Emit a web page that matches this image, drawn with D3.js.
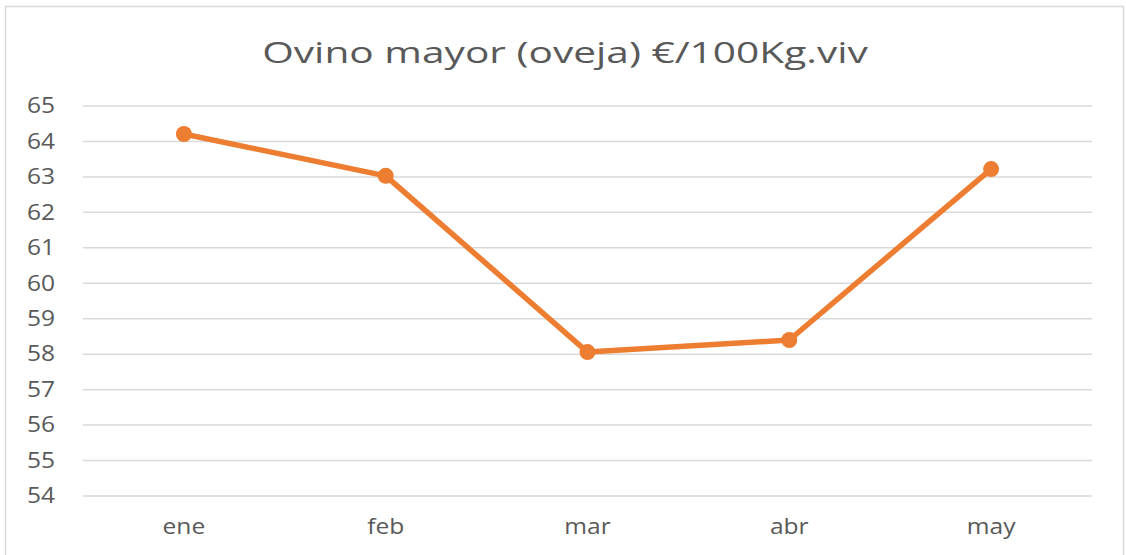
<!DOCTYPE html>
<html>
<head>
<meta charset="utf-8">
<script src="https://cdn.jsdelivr.net/npm/d3@7"></script>
<style>
  html, body { margin: 0; padding: 0; background: #fff; }
  svg { display: block; font-family: "Open Sans", "Noto Sans", sans-serif; }
</style>
</head>
<body>
<svg width="1126" height="555"></svg>
<script>
// chart data
const months = ["ene", "feb", "mar", "abr", "may"];
const prices = [64.21, 63.03, 58.06, 58.4, 63.22];
const yTicks = [54, 55, 56, 57, 58, 59, 60, 61, 62, 63, 64, 65];
const chartTitle = "Ovino mayor (oveja) €/100Kg.viv";

const svg = d3.select("svg");
const width = 1126, height = 555;
const margin = { top: 106, right: 34, bottom: 59, left: 83 };
const labelStretch = 1.17; // the picture's text is a bit wider than Open Sans

// outer frame
svg.append("rect")
  .attr("x", 5.5).attr("y", 6.5)
  .attr("width", 1118).attr("height", 560)
  .attr("fill", "#fff")
  .attr("stroke", "#d9d9d9")
  .attr("stroke-width", 1.5);

const x = d3.scaleBand()
  .domain(months)
  .range([margin.left, width - margin.right])
  .padding(0);

const y = d3.scaleLinear()
  .domain([54, 65])
  .range([height - margin.bottom, margin.top]);

// gridlines
svg.append("g")
  .selectAll("line")
  .data(yTicks)
  .join("line")
  .attr("x1", margin.left)
  .attr("x2", width - margin.right)
  .attr("y1", d => y(d))
  .attr("y2", d => y(d))
  .attr("stroke", "#d9d9d9")
  .attr("stroke-width", 1.5);

// y axis labels
const yAxis = d3.axisLeft(y).tickValues(yTicks).tickSize(0).tickPadding(0);
svg.append("g")
  .attr("transform", `translate(${margin.left - 28},0)`)
  .call(yAxis)
  .call(g => g.select(".domain").remove())
  .selectAll("text")
  .attr("fill", "#595959")
  .attr("transform", `scale(${labelStretch},1)`)
  .style("font-size", "21px")
  .style("font-family", "'Open Sans', sans-serif");

// x axis labels
const xAxis = d3.axisBottom(x).tickSize(0).tickPadding(0);
svg.append("g")
  .attr("transform", `translate(0,${height - margin.bottom + 23})`)
  .call(xAxis)
  .call(g => g.select(".domain").remove())
  .selectAll("text")
  .attr("fill", "#595959")
  .attr("transform", `scale(${labelStretch},1)`)
  .style("font-size", "21px")
  .style("font-family", "'Open Sans', sans-serif");

// line
const line = d3.line()
  .x((d, i) => x(months[i]) + x.bandwidth() / 2)
  .y(d => y(d));

svg.append("path")
  .datum(prices)
  .attr("d", line)
  .attr("fill", "none")
  .attr("stroke", "#ed7d31")
  .attr("stroke-width", 5.5)
  .attr("stroke-linejoin", "round");

svg.append("g")
  .selectAll("circle")
  .data(prices)
  .join("circle")
  .attr("cx", (d, i) => x(months[i]) + x.bandwidth() / 2)
  .attr("cy", d => y(d))
  .attr("r", 8)
  .attr("fill", "#ed7d31");

// title, stretched to the width it has in the picture
const titleG = svg.append("g").attr("transform", "translate(565,63)");
const title = titleG.append("text")
  .attr("text-anchor", "middle")
  .attr("fill", "#595959")
  .style("font-size", "29px")
  .text(chartTitle);
const tw = title.node().getComputedTextLength();
title.attr("transform", `scale(${606 / tw},1)`);
</script>
</body>
</html>
